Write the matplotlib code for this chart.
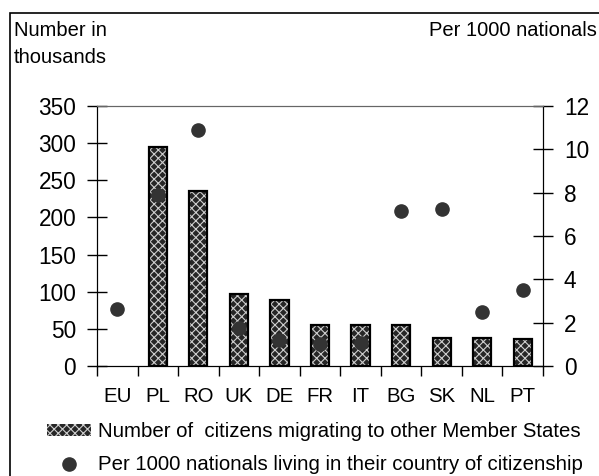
import numpy as np
import matplotlib.pyplot as plt
from matplotlib.patches import Rectangle, Patch
from matplotlib.lines import Line2D

plt.rcParams['font.family'] = ['Liberation Sans', 'DejaVu Sans']
plt.rcParams['hatch.linewidth'] = 0.8

countries = ["EU", "PL", "RO", "UK", "DE", "FR", "IT", "BG", "SK", "NL", "PT"]
# thousands of citizens migrating to other member states (EU has no bar)
migrants = [np.nan, 295, 235, 97, 89, 55, 55, 55, 38, 38, 36]
# per 1000 nationals living in their country of citizenship
per_1000 = [2.65, 7.9, 10.9, 1.75, 1.2, 1.0, 1.05, 7.15, 7.25, 2.5, 3.5]

fig = plt.figure(figsize=(5.99, 4.76), dpi=100)
ax = fig.add_axes([97/599, 1 - 366/476, 446/599, 260/476])
ax2 = ax.twinx()

x = np.arange(len(countries))
ax.bar(x, migrants, width=0.45, color="#262626", edgecolor="#cfcfcf",
       hatch="xxxx", linewidth=0, zorder=2)
ax.bar(x, migrants, width=0.45, fill=False, edgecolor="black",
       linewidth=1.6, zorder=3)
ax2.plot(x, per_1000, "o", color="#333333", markersize=9.5, zorder=4)

ax.set_xlim(-0.5, len(countries) - 0.5)
ax.set_ylim(0, 350)
ax2.set_ylim(0, 12)
ax.set_yticks(range(0, 351, 50))
ax2.set_yticks(range(0, 13, 2))
ax.set_xticks(x)
ax.set_xticklabels(countries)
ax.set_xticks(np.arange(-0.5, len(countries), 1), minor=True)

ax.tick_params(axis="x", which="major", length=0, labelsize=14.7, pad=15)
ax.tick_params(axis="x", which="minor", length=7, direction="out", width=1)
ax.tick_params(axis="y", direction="inout", length=15, labelsize=16.3, pad=7.5, width=1)
ax2.tick_params(axis="y", direction="inout", length=15, labelsize=16.3, pad=7.5, width=1)

for a in (ax, ax2):
    a.spines["top"].set_color("#666666")
    a.spines["left"].set_color("black")
    a.spines["right"].set_color("black")
    a.spines["bottom"].set_color("black")

# outer frame
fig.patches.append(Rectangle((10/599, -0.1), 1.1, 1.1 - 13/476,
                             transform=fig.transFigure, fill=False,
                             edgecolor="black", linewidth=1.2, clip_on=False))

fig.text(14/599, 1 - 21/476, "Number in\nthousands", ha="left", va="top",
         fontsize=14.5, linespacing=1.55)
fig.text(597/599, 1 - 31/476, "Per 1000 nationals", ha="right", va="center",
         fontsize=14.5)

handles = [Patch(facecolor="#262626", edgecolor="#cfcfcf", hatch="xxxx", linewidth=0),
           Line2D([], [], marker="o", linestyle="none", color="#333333", markersize=9.5)]
labels = ["Number of  citizens migrating to other Member States",
          "Per 1000 nationals living in their country of citizenship"]
fig.legend(handles, labels, loc="upper left", bbox_to_anchor=(47/599, 1 - 422/476),
           frameon=False, fontsize=14.7, handlelength=2.15, handleheight=0.5,
           handletextpad=0.35, labelspacing=0.7, borderaxespad=0, borderpad=0)

fig.savefig("out.png", dpi=100)
